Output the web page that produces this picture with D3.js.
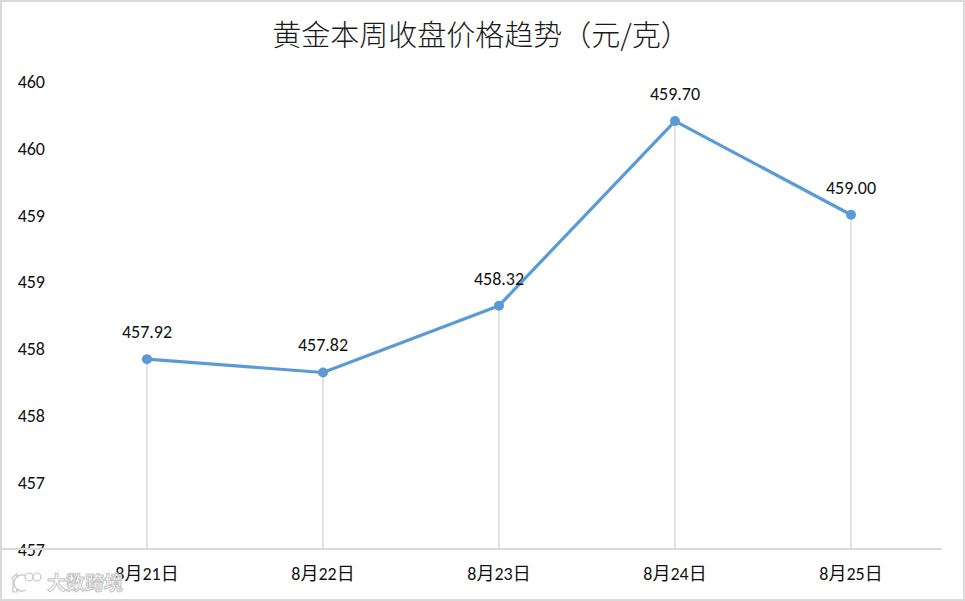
<!DOCTYPE html>
<html><head><meta charset="utf-8">
<script src="https://cdn.jsdelivr.net/npm/d3@7/dist/d3.min.js"></script>
<style>
html,body{margin:0;padding:0;background:#fff;}
svg{display:block;}
</style></head>
<body>
<svg id="c" width="965" height="601"></svg>
<script>
const title = "黄金本周收盘价格趋势（元/克）";
const categories = ["8月21日","8月22日","8月23日","8月24日","8月25日"];
const values = [457.92, 457.82, 458.32, 459.70, 459.00];
const valueLabels = ["457.92","457.82","458.32","459.70","459.00"];
const yTicks = [456.5, 457, 457.5, 458, 458.5, 459, 459.5, 460];
const yTickLabels = ["457","457","458","458","459","459","460","460"];

const svg = d3.select("#c");
const W = 965, H = 601;
const numFont = "Carlito, 'Liberation Sans', Arial, sans-serif";
const mixFont = "Carlito, 'Noto Sans CJK SC', sans-serif";
svg.append("rect").attr("x",1).attr("y",1).attr("width",W-2).attr("height",H-2)
  .attr("fill","#fff").attr("stroke","#d9d9d9").attr("stroke-width",2);

const x = d3.scaleBand().domain(categories).range([59, 939]);
const y = d3.scaleLinear().domain([456.5, 460]).range([549, 81]);
const cx = d => x(d) + x.bandwidth()/2;

svg.append("text").attr("x", 481).attr("y", 46).attr("text-anchor","middle")
  .attr("font-family","'Noto Sans CJK SC', sans-serif").attr("font-size",29)
  .attr("font-weight",300)
  .attr("fill","#1a1a1a").text(title);

// y tick labels
const yAxis = d3.axisLeft(y).tickValues(yTicks).tickSize(0).tickPadding(0)
  .tickFormat((d,i) => yTickLabels[i]);
const ya = svg.append("g").attr("transform","translate(45,0)").call(yAxis);
ya.select(".domain").remove();
ya.selectAll("text").attr("font-family",numFont)
  .attr("font-size",18).attr("fill","#111").attr("dy","0.35em");

// drop lines
svg.append("g").selectAll("line").data(categories).join("line")
  .attr("x1", d=>cx(d)).attr("x2", d=>cx(d))
  .attr("y1", (d,i)=>y(values[i])).attr("y2", y(456.5))
  .attr("stroke","#d9d9d9").attr("stroke-width",1.5);

// x axis baseline
const xAxis = d3.axisBottom(x).tickSize(0).tickPadding(18);
const xa = svg.append("g").attr("transform",`translate(0,${y(456.5)})`).call(xAxis);
xa.select(".domain").attr("d", "M-1,0H942").attr("stroke","#d9d9d9").attr("stroke-width",2);
xa.selectAll("text").attr("font-family",mixFont)
  .attr("font-size",18).attr("fill","#111");

// line
const line = d3.line().x((d,i)=>cx(categories[i])).y(d=>y(d));
svg.append("path").datum(values).attr("d", line).attr("fill","none")
  .attr("stroke","#5b9bd5").attr("stroke-width",3.2).attr("stroke-linejoin","round");

svg.append("g").selectAll("circle").data(values).join("circle")
  .attr("cx",(d,i)=>cx(categories[i])).attr("cy",d=>y(d)).attr("r",5)
  .attr("fill","#5b9bd5");

svg.append("g").selectAll("text").data(values).join("text")
  .attr("x",(d,i)=>cx(categories[i])).attr("y",d=>y(d)-21)
  .attr("text-anchor","middle")
  .attr("font-family",numFont)
  .attr("font-size",18).attr("fill","#111")
  .text((d,i)=>valueLabels[i]);

// watermark
svg.append("text").attr("x", 47).attr("y", 590)
  .attr("font-family","'Noto Sans CJK SC', sans-serif").attr("font-size",19)
  .attr("font-weight","bold")
  .attr("fill","#ffffff").attr("stroke","#c4c4c4").attr("stroke-width",1)
  .text("大数跨境");
const logo = svg.append("g").attr("fill","#ffffff").attr("stroke","#c4c4c4").attr("stroke-width",1.2);
logo.append("path").attr("d","M12,578 L17,574 L17,592 L13,592 L13,580 Z");
logo.append("path").attr("d","M26,576 A8,8 0 1,0 26,590");
logo.append("circle").attr("cx",29).attr("cy",577).attr("r",4);
logo.append("circle").attr("cx",37).attr("cy",577).attr("r",4);
</script>
</body></html>
